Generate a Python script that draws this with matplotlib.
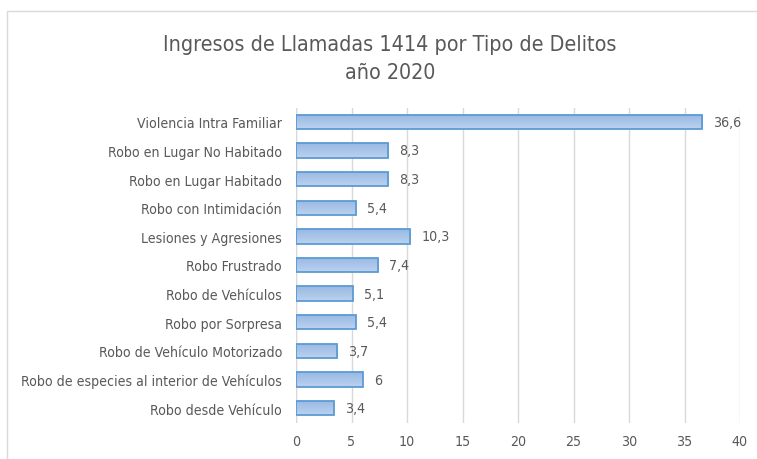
import matplotlib.pyplot as plt
import numpy as np
from matplotlib.patches import Rectangle
from matplotlib.ticker import MultipleLocator
from matplotlib.colors import LinearSegmentedColormap

plt.rcParams['font.family'] = ['DejaVu Sans']
plt.rcParams['font.stretch'] = 'condensed'

# Datos
delitos = [
    "Violencia Intra Familiar",
    "Robo en Lugar No Habitado",
    "Robo en Lugar Habitado",
    "Robo con Intimidación",
    "Lesiones y Agresiones",
    "Robo Frustrado",
    "Robo de Vehículos",
    "Robo por Sorpresa",
    "Robo de Vehículo Motorizado",
    "Robo de especies al interior de Vehículos",
    "Robo desde Vehículo",
]
porcentajes = [36.6, 8.3, 8.3, 5.4, 10.3, 7.4, 5.1, 5.4, 3.7, 6, 3.4]

gris = "#595959"

fig = plt.figure(figsize=(7.57, 4.6), dpi=100)
# marco del area del grafico
fig.patches.append(Rectangle((7 / 757, -0.05), 1.0, 1 - 12 / 460 + 0.05,
                             transform=fig.transFigure, fill=False,
                             edgecolor="#d9d9d9", linewidth=1.0))

ax = fig.add_axes([296 / 757, 1 - 423.5 / 460, (740 - 296) / 757, (423.5 - 108.5) / 460])

y = np.arange(len(delitos))
barras = ax.barh(y, porcentajes, height=0.5, color="none",
                 edgecolor="#5b9bd5", linewidth=1.3, zorder=3)

# relleno degradado dentro de cada barra
grad = np.linspace(0, 1, 64).reshape(-1, 1)
cmap = LinearSegmentedColormap.from_list("azul", ["#bcd1ee", "#98b9e4"])
for b in barras:
    x0, y0 = b.get_x(), b.get_y()
    w, h = b.get_width(), b.get_height()
    im = ax.imshow(grad, extent=[x0, x0 + w, y0, y0 + h], cmap=cmap,
                   aspect="auto", origin="upper", zorder=2)
    im.set_clip_path(b)

for yi, v in zip(y, porcentajes):
    txt = f"{v:g}".replace(".", ",")
    ax.annotate(txt, (v, yi), xytext=(8, 0), textcoords="offset points",
                va="center", ha="left", fontsize=10.2, color=gris)

ax.set_xlim(0, 40)
ax.set_ylim(len(delitos) - 0.5, -0.5)
ax.set_yticks(y)
ax.set_yticklabels(delitos, fontsize=10.1, color=gris)
ax.xaxis.set_major_locator(MultipleLocator(5))
ax.tick_params(axis="x", labelsize=10.2, labelcolor=gris, length=0, pad=8)
ax.tick_params(axis="y", length=0, pad=10)
ax.grid(axis="x", color="#d9d9d9", linewidth=1.0, zorder=0)
ax.set_axisbelow(True)
for s in ax.spines.values():
    s.set_visible(False)
ax.axvline(0, color="#d9d9d9", linewidth=1.0, zorder=1)

fig.text(0.5155, 1 - 59 / 460, "Ingresos de Llamadas 1414 por Tipo de Delitos\naño 2020",
         ha="center", va="center", fontsize=15.4, color=gris, linespacing=1.5)

fig.savefig("out.png", dpi=100)
